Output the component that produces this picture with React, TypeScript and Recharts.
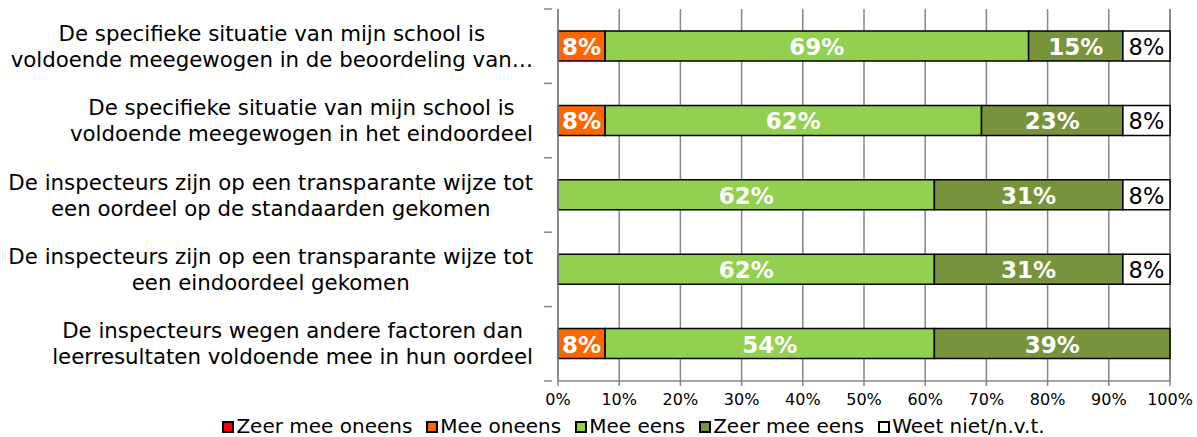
import React from "react";
import { BarChart, Bar, XAxis, YAxis, CartesianGrid, LabelList } from "recharts";

const categoryLines: string[][] = [
  ["De specifieke situatie van mijn school is", "voldoende meegewogen in de beoordeling van…"],
  ["De specifieke situatie van mijn school is", "voldoende meegewogen in het eindoordeel"],
  ["De inspecteurs zijn op een transparante wijze tot", "een oordeel op de standaarden gekomen"],
  ["De inspecteurs zijn op een transparante wijze tot", "een eindoordeel gekomen"],
  ["De inspecteurs wegen andere factoren dan", "leerresultaten voldoende mee in hun oordeel"],
];
const zeerOneens = [0, 0, 0, 0, 0];
const meeOneens = [7.7, 7.7, 0, 0, 7.7];
const meeEens = [69.2, 61.5, 61.5, 61.5, 53.8];
const zeerEens = [15.4, 23.1, 30.8, 30.8, 38.5];
const weetNiet = [7.7, 7.7, 7.7, 7.7, 0];
const xTicks = [0, 10, 20, 30, 40, 50, 60, 70, 80, 90, 100];

const seriesDefs = [
  { key: "zeerOneens", name: "Zeer mee oneens", color: "#FF0000", dark: false },
  { key: "meeOneens", name: "Mee oneens", color: "#FF6600", dark: false },
  { key: "meeEens", name: "Mee eens", color: "#92D050", dark: false },
  { key: "zeerEens", name: "Zeer mee eens", color: "#77933C", dark: false },
  { key: "weetNiet", name: "Weet niet/n.v.t.", color: "#FFFFFF", dark: true },
];

const data = categoryLines.map((lines, i) => ({
  name: lines.join(" "),
  zeerOneens: zeerOneens[i],
  meeOneens: meeOneens[i],
  meeEens: meeEens[i],
  zeerEens: zeerEens[i],
  weetNiet: weetNiet[i],
}));

const W = 1197;
const H = 437;
const M = { top: 9, right: 27, left: 0, bottom: 26 };
const YW = 558;
const XH = 30;
const PLOT_H = H - M.top - M.bottom - XH;
const BAND = PLOT_H / categoryLines.length;
const FONT = "'DejaVu Sans', Verdana, sans-serif";
const CAT_FS = 21.3;

let ctx: CanvasRenderingContext2D | null = null;
function measure(t: string, fs: number): number {
  if (typeof document === "undefined") return t.length * fs * 0.55;
  if (!ctx) ctx = document.createElement("canvas").getContext("2d");
  if (!ctx) return t.length * fs * 0.55;
  ctx.font = `${fs}px 'DejaVu Sans'`;
  return ctx.measureText(t).width;
}

const YTick = (props: any) => {
  const { x, y, payload, index } = props;
  const i = data.findIndex((d) => d.name === payload.value);
  const lines = categoryLines[i] || [String(payload.value)];
  const blockW = Math.max(...lines.map((l) => measure(l, CAT_FS)));
  const right = x - 17;
  const cx = right - blockW / 2;
  return (
    <g>
      <line x1={x - 6} x2={x + 2} y1={y - BAND / 2} y2={y - BAND / 2} stroke="#868686" strokeWidth={1.5} />
      {index === categoryLines.length - 1 && (
        <line x1={x - 6} x2={x + 2} y1={y + BAND / 2} y2={y + BAND / 2} stroke="#868686" strokeWidth={1.5} />
      )}
      {lines.map((l, k) => (
        <text
          key={k}
          x={cx}
          y={y + (k - (lines.length - 1) / 2) * 26}
          textAnchor="middle"
          dominantBaseline="central"
          fontFamily={FONT}
          fontSize={CAT_FS}
          fill="#000"
        >
          {l}
        </text>
      ))}
    </g>
  );
};

const makeLabel = (dark: boolean) => (props: any) => {
  const { x, y, width, height, value } = props;
  if (!value || value <= 0) return null;
  return (
    <text
      x={x + width / 2}
      y={y + height / 2 + 1}
      textAnchor="middle"
      dominantBaseline="central"
      fontFamily={FONT}
      fontSize={dark ? 22.5 : 23}
      fontWeight={dark ? "normal" : "bold"}
      fill={dark ? "#000" : "#fff"}
    >
      {Math.round(value)}%
    </text>
  );
};

const LegendRow = () => (
  <div
    style={{
      position: "absolute",
      left: 0,
      top: 416,
      width: W,
      height: 21,
      lineHeight: "21px",
      display: "flex",
      justifyContent: "center",
      alignItems: "center",
      fontFamily: FONT,
      fontSize: 20,
      color: "#000",
      paddingLeft: 70,
      boxSizing: "border-box",
      whiteSpace: "nowrap",
    }}
  >
    {seriesDefs.map((s, i) => (
      <div
        key={s.key}
        style={{ display: "flex", alignItems: "center", marginRight: i < seriesDefs.length - 1 ? 14 : 0 }}
      >
        <span
          style={{
            display: "inline-block",
            width: 8,
            height: 8,
            background: s.color,
            border: "2px solid #000",
            marginRight: 2,
          }}
        />
        <span>{s.name}</span>
      </div>
    ))}
  </div>
);

export default function App() {
  return (
    <div style={{ position: "absolute", left: 0, top: 0, width: W, height: H, background: "#fff", overflow: "hidden" }}>
      <BarChart width={W} height={H} data={data} layout="vertical" margin={M} barSize={30}>
        <CartesianGrid horizontal={false} vertical={true} stroke="#868686" strokeWidth={1.5} />
        <XAxis
          type="number"
          domain={[0, 100]}
          ticks={xTicks}
          tickFormatter={(v: number) => `${v}%`}
          axisLine={{ stroke: "#868686", strokeWidth: 1.5 }}
          tickLine={{ stroke: "#868686", strokeWidth: 1.5 }}
          tickSize={5}
          tickMargin={8}
          height={XH}
          interval={0}
          tick={{ fontFamily: FONT, fontSize: 16, fill: "#000" }}
        />
        <YAxis
          type="category"
          dataKey="name"
          width={YW}
          axisLine={{ stroke: "#868686", strokeWidth: 1.5 }}
          tickLine={false}
          tick={<YTick />}
          interval={0}
        />
        {seriesDefs.map((s) => (
          <Bar
            key={s.key}
            dataKey={s.key}
            name={s.name}
            stackId="a"
            fill={s.color}
            stroke="#000"
            strokeWidth={1.5}
            isAnimationActive={false}
          >
            <LabelList dataKey={s.key} content={makeLabel(s.dark)} />
          </Bar>
        ))}
      </BarChart>
      <LegendRow />
    </div>
  );
}
